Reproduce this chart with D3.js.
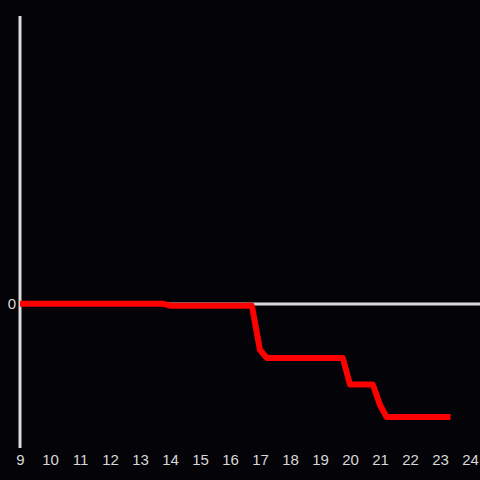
<!DOCTYPE html>
<html>
<head>
<meta charset="utf-8">
<script src="https://cdn.jsdelivr.net/npm/d3@7"></script>
<style>
  html, body { margin: 0; padding: 0; background: #040307; }
  svg { display: block; }
</style>
</head>
<body>
<svg id="chart" width="480" height="480"></svg>
<script>
// series (x = hour, y = value)
const hours = [9, 13.75, 14, 16.73, 17, 17.23, 19.76, 20, 20.76, 21, 21.22, 23.35];
const values = [0.03, 0.03, -0.17, -0.17, -4.6, -5.4, -5.4, -8.05, -8.05, -10.1, -11.3, -11.3];
const xTicks = [9, 10, 11, 12, 13, 14, 15, 16, 17, 18, 19, 20, 21, 22, 23, 24];
const yTicks = [0];

const width = 480, height = 480;
const svg = d3.select('#chart');

const x = d3.scaleLinear().domain([9, 24]).range([20, 470]);
const y = d3.scaleLinear().domain([-14.4, 28.8]).range([448, 16]);

// left axis line
svg.append('line')
  .attr('x1', x(9)).attr('x2', x(9))
  .attr('y1', y(28.8)).attr('y2', y(-14.4))
  .attr('stroke', '#dcdcdc')
  .attr('stroke-width', 3);

// zero line
svg.append('line')
  .attr('x1', x(9)).attr('x2', width)
  .attr('y1', y(0)).attr('y2', y(0))
  .attr('stroke', '#dcdcdc')
  .attr('stroke-width', 3);

// x tick labels
const xAxis = svg.append('g')
  .attr('transform', `translate(0, ${y(-14.4)})`)
  .call(d3.axisBottom(x).tickValues(xTicks).tickFormat(d3.format('d')).tickSize(0).tickPadding(6));
xAxis.select('.domain').remove();
xAxis.selectAll('text')
  .attr('fill', '#d8d8d8')
  .style('font-family', '"Liberation Sans", Arial, sans-serif')
  .style('font-size', '15px');

// y tick labels
const yAxis = svg.append('g')
  .attr('transform', `translate(${x(9)}, 0)`)
  .call(d3.axisLeft(y).tickValues(yTicks).tickFormat(d3.format('d')).tickSize(0).tickPadding(4));
yAxis.select('.domain').remove();
yAxis.selectAll('text')
  .attr('fill', '#d8d8d8')
  .style('font-family', '"Liberation Sans", Arial, sans-serif')
  .style('font-size', '15px');

// series line
const line = d3.line()
  .x((d, i) => x(hours[i]))
  .y(d => y(d));

svg.append('path')
  .datum(values)
  .attr('d', line)
  .attr('fill', 'none')
  .attr('stroke', '#ff0000')
  .attr('stroke-width', 6)
  .attr('stroke-linejoin', 'round');
</script>
</body>
</html>
